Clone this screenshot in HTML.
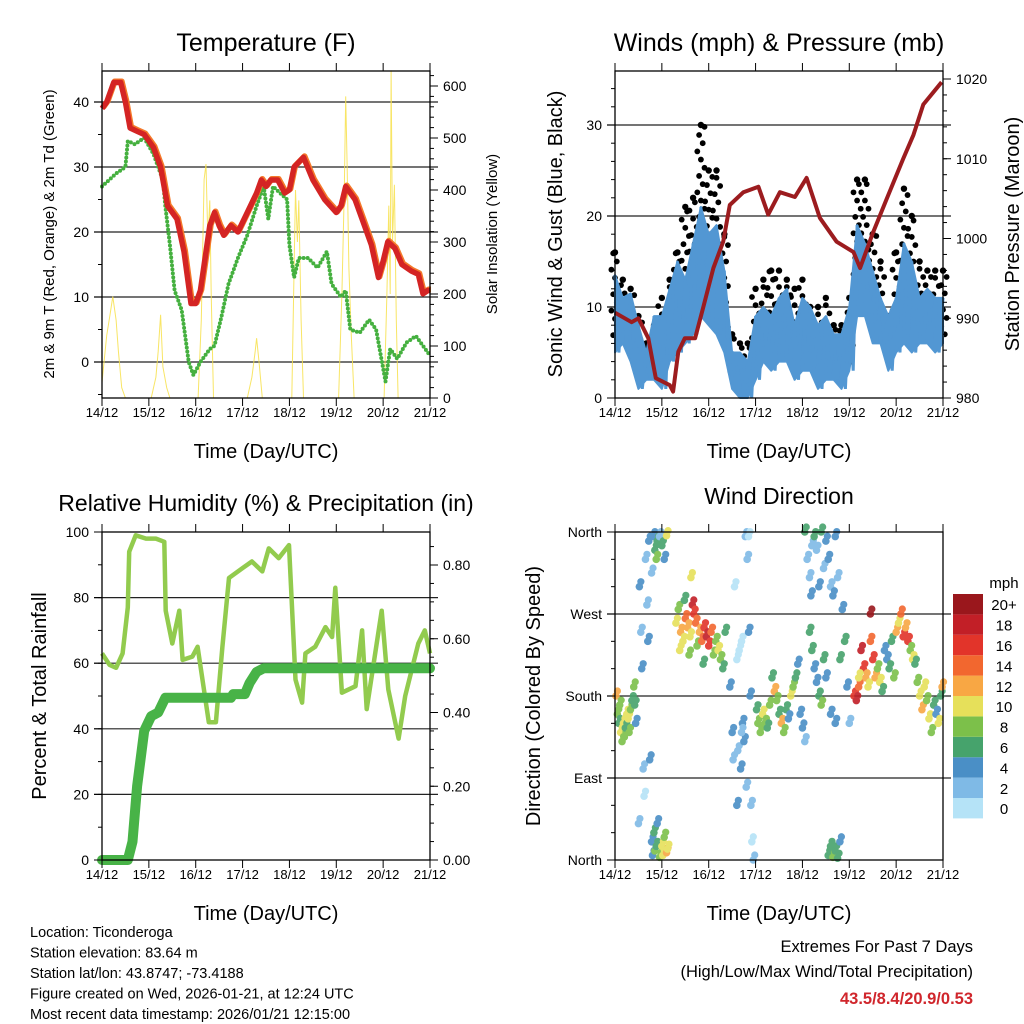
<!DOCTYPE html>
<html><head><meta charset="utf-8"><style>
html,body{margin:0;padding:0;background:#fff}
svg{display:block;font-family:"Liberation Sans",sans-serif}
</style></head><body>
<svg id="chart" width="1024" height="1024" viewBox="0 0 1024 1024"></svg>
<script>
// ---------- Temperature data (time in days since 14/12) ----------
const tempT=[0,0.1,0.25,0.4,0.5,0.6,0.75,0.9,1.0,1.1,1.25,1.4,1.6,1.75,1.9,2.0,2.1,2.3,2.4,2.5,2.6,2.75,2.9,3.1,3.3,3.4,3.5,3.6,3.75,3.9,4.0,4.1,4.3,4.5,4.75,5.0,5.1,5.2,5.4,5.6,5.75,5.9,6.0,6.1,6.25,6.4,6.6,6.75,6.85,6.95,7.0];
const tempV=[39,40,43,43,40,36,35.5,35,34,33,30,24,22,17,9,9,11,21,23,21,19.5,21,20,23,26,28,27,28,28,26,26.5,30,31.5,28,25,23,24,27,25,21,18,13,15.5,18.5,17.5,15,14,13.5,10.5,11,11];
const dewT=[0,0.3,0.5,0.55,0.7,0.9,1.1,1.3,1.35,1.45,1.55,1.7,1.85,1.95,2.1,2.3,2.4,2.55,2.7,2.9,3.1,3.3,3.45,3.55,3.65,3.8,3.95,4.0,4.1,4.2,4.4,4.6,4.8,4.9,5.0,5.1,5.2,5.3,5.5,5.7,5.85,5.95,6.05,6.15,6.3,6.5,6.7,6.85,7.0];
const dewV=[27,29,30,34,33.5,34.5,32,28,24,18,11,8,0,-2,0,2,2.5,7,12,16,19.5,24,27,22,27,26,25,18,13,16,16,14.5,17,12,11,10,11,5,4.5,6.5,5,1,-3,2,0.5,3,4,2.5,1];
const solT=[0,0.1,0.17,0.23,0.3,0.35,0.42,0.5,1.05,1.15,1.2,1.25,1.3,1.38,1.45,2.05,2.12,2.18,2.22,2.26,2.3,2.33,2.38,3.1,3.2,3.27,3.3,3.35,3.42,4.05,4.1,4.13,4.17,4.2,4.25,4.3,5.05,5.12,5.17,5.2,5.23,5.27,5.32,5.38,6.02,6.08,6.12,6.15,6.17,6.2,6.24,6.28,6.32,7.0];
const solV=[30,120,160,195,150,90,20,0,0,40,90,160,60,20,0,0,150,420,450,300,380,200,0,0,40,90,115,70,0,0,250,400,300,380,150,0,0,200,400,580,450,250,120,0,0,200,370,200,630,300,410,150,0,0];
// ---------- Wind data (4-hour steps) ----------
const windHi=[13.5,11,11.5,8,5,9,9,12,15,13,17,21,18,19,14,5,5,4,9,10,9,11,12,8,11,10,8,9,7,7,10,19,17,14,11,9,11,17,15,11,12,11,11];
const windLo=[5,6,4,1,2,2,1,4,5,6,7,9,8,7,5,1,0,0,2,4,3,4,4,2,3,3,1,2,2,1,3,9,9,6,6,3,5,6,5,6,6,5,6];
const gustV=[16,13,12,9,6,8,11,13,16,21,22,30,25,25,18,7,6,6,12,13,14,14,13,12,13,10,10,11,8,8,11,24,24,18,15,9,16,23,20,15,14,14,14];
const presT=[0,0.355,0.5,0.71,0.87,1.17,1.24,1.35,1.49,1.71,1.88,2.1,2.31,2.45,2.74,3.06,3.27,3.52,3.84,4.09,4.37,4.73,5.09,5.23,5.51,5.8,6.15,6.37,6.58,6.97];
const presV=[990.7,989.5,990,987.5,982.5,981.6,980.8,985.8,987.5,987.5,991.3,996.3,999.6,1004.2,1005.8,1006.5,1003,1005.8,1005.2,1007.6,1002.6,999.6,998.3,996.3,1000.8,1005,1010,1013,1016.8,1019.6];
// ---------- RH / precip ----------
const rhT=[0,0.16,0.3,0.44,0.55,0.58,0.72,0.94,1.15,1.33,1.36,1.5,1.65,1.72,1.93,2.04,2.28,2.43,2.57,2.71,3.0,3.2,3.42,3.56,3.77,3.99,4.13,4.27,4.34,4.55,4.77,4.91,4.98,5.12,5.41,5.55,5.65,5.97,6.11,6.33,6.47,6.75,6.89,7.0];
const rhV=[63,59.5,58.6,63,77,94,99,98,98,97,76,66,76,61,62,65,42,42,65,86,89,91,88,95,92,96,55,48,63,65,71,68,83,51,53,70,46,76,52,37,50,66,70,63];
const prT=[0,0.55,0.65,0.75,0.9,1.05,1.2,1.35,2.75,2.8,3.05,3.15,3.3,3.45,7.0];
const prV=[0,0,0.05,0.2,0.35,0.39,0.4,0.44,0.44,0.45,0.45,0.48,0.51,0.52,0.52];
// ---------- Wind direction ----------
const dirT=[0.02,0.05,0.08,0.1,0.12,0.15,0.18,0.2,0.22,0.25,0.28,0.3,0.33,0.36,0.4,0.42,0.44,
0.5,0.52,0.55,0.57,0.6,0.62,0.65,0.68,0.7,0.72,0.74,
0.78,0.8,0.83,0.85,0.88,0.9,0.95,1.0,1.02,1.05,1.1,1.12,
0.82,0.85,0.88,0.9,0.95,1.0,1.05,1.1,0.78,
1.3,1.35,1.4,1.45,1.5,1.55,1.6,1.65,1.68,1.72,1.75,1.8,1.85,1.9,1.95,2.0,2.05,2.1,2.15,2.2,2.25,2.3,1.38,1.58,1.88,2.35,1.48,1.62,
2.45,2.5,2.52,2.55,2.6,2.65,2.7,2.62,2.68,2.72,2.75,2.8,2.78,2.82,2.85,2.88,2.9,2.92,2.95,2.85,2.7,2.6,
3.02,3.05,3.1,3.15,3.2,3.25,3.3,3.35,3.4,3.45,3.5,3.55,3.6,3.65,3.7,3.75,3.8,3.85,3.9,3.95,4.0,4.05,
4.05,4.1,4.15,4.18,4.2,4.25,4.3,4.35,4.4,4.45,4.5,4.55,4.6,4.65,4.7,4.75,4.85,4.55,4.6,4.65,4.7,4.8,4.75,
4.15,4.2,4.25,4.3,4.35,4.4,4.45,4.5,4.6,4.7,4.8,4.9,4.95,5.0,
5.1,5.15,5.2,5.25,5.3,5.35,5.4,5.45,5.5,5.55,5.6,5.65,5.7,5.75,5.8,5.85,5.9,5.95,5.45,5.2,
6.0,6.05,6.1,6.15,6.2,6.25,6.3,6.35,6.4,
6.45,6.5,6.55,6.6,6.65,6.7,6.75,6.8,6.85,6.9,6.95,6.98];
const dirD=[180,160,150,170,140,130,150,135,145,160,155,140,165,175,190,170,150,
40,300,250,210,100,70,330,280,240,350,110,
20,5,30,10,15,40,3,15,5,25,8,12,
355,340,330,350,355,345,330,356,315,
260,275,250,240,265,255,245,280,270,260,235,250,240,255,245,235,250,225,240,230,220,210,230,225,215,250,285,310,
190,140,110,300,220,230,240,120,100,150,130,80,355,330,250,180,60,20,0,355,140,60,
165,150,140,160,150,145,170,200,185,175,160,150,140,165,155,180,190,200,215,160,145,130,
360,330,310,290,345,355,340,300,360,320,350,330,300,290,355,310,275,5,15,3,10,20,2,
250,230,210,195,180,170,220,200,160,150,220,240,190,150,
180,175,190,230,210,200,190,240,220,200,210,195,185,230,220,210,240,200,270,200,
250,260,270,245,255,240,230,220,215,
195,180,165,190,175,155,140,170,160,150,180,190];
const dirS=[12,8,6,8,10,8,10,8,6,10,10,8,8,6,8,6,4,
2,4,2,4,2,0,2,2,4,4,4,
4,4,6,8,6,4,8,10,10,8,12,10,
4,6,8,6,2,6,4,10,2,
10,8,12,10,14,12,10,18,16,14,8,12,14,16,18,16,14,8,8,10,8,6,10,8,6,6,6,10,
4,4,2,0,0,0,0,2,4,4,4,2,2,2,4,4,2,0,2,0,2,4,
6,8,8,10,8,6,8,6,12,8,6,12,8,6,4,10,8,6,4,4,4,2,
6,2,2,4,2,6,2,4,6,2,4,4,2,4,4,2,4,6,6,8,6,4,6,
6,6,4,4,6,8,6,4,4,4,6,6,4,2,
16,18,14,18,16,12,10,14,16,12,8,10,6,4,4,6,6,8,20,10,
12,10,14,16,12,16,8,10,6,
8,10,12,10,8,10,8,6,4,10,6,12];
const cbLabels=["0","2","4","6","8","10","12","14","16","18","20+"];
const cbColors=["#b5e3f7","#7fbae6","#4a8fc6","#46a36c","#7cc04a","#e6e05a","#f8a744","#f2672f","#e2342a","#c21f27","#9a171c"];
const dayLabels=["14/12","15/12","16/12","17/12","18/12","19/12","20/12","21/12"];

const svg=document.getElementById('chart');
const NS='http://www.w3.org/2000/svg';
function el(tag,attrs,parent){const e=document.createElementNS(NS,tag);for(const k in attrs)e.setAttribute(k,attrs[k]);(parent||svg).appendChild(e);return e;}
function txt(s,x,y,size,anchor,parent,rot,extra){const t=el('text',{x:x,y:y,'font-size':size,'text-anchor':anchor||'middle',fill:'#000'},parent);if(rot)t.setAttribute('transform','rotate('+rot+' '+x+' '+y+')');if(extra)for(const k in extra)t.setAttribute(k,extra[k]);t.textContent=s;return t;}

function panel(name,x0,x1,y0,y1){
  const g=el('g',{});
  
  
  return {g,x0,x1,y0,y1,sx:t=>x0+(x1-x0)*t/7};
}
function lin(d0,d1,p0,p1){return v=>p0+(v-d0)*(p1-p0)/(d1-d0);}
function grid(P,sy,vals){
  const gg=el('g',{},P.g);
  
  
  vals.forEach(v=>el('line',{x1:P.x0-8,x2:P.x1+8,y1:sy(v),y2:sy(v),stroke:'#222','stroke-width':1.2},gg));
}
function frame(P){
  const f=el('rect',{x:P.x0,y:P.y0,width:P.x1-P.x0,height:P.y1-P.y0,fill:'none',stroke:'#000','stroke-width':1.3},P.g);
  
  
  const xa=el('g',{},P.g);
  
  
  for(let d=0;d<=7;d++){const x=P.sx(d);
    el('line',{x1:x,x2:x,y1:P.y0,y2:P.y0-8,stroke:'#000','stroke-width':1},xa);
    el('line',{x1:x,x2:x,y1:P.y1,y2:P.y1+8,stroke:'#000','stroke-width':1},xa);
    const t=txt(dayLabels[d],x,P.y1+19,13,'middle',xa);}
  const tt=txt('Time (Day/UTC)',(P.x0+P.x1)/2,P.y1+60,20,'middle',xa);
  
}
function yAxis(P,sy,side,majors,labels,minors,name){
  const ag=el('g',{},P.g);
  
  
  const x=side==='l'?P.x0:P.x1, dir=side==='l'?-1:1;
  minors.forEach(v=>el('line',{x1:x,x2:x+dir*4,y1:sy(v),y2:sy(v),stroke:'#000','stroke-width':1},ag));
  majors.forEach((v,i)=>{el('line',{x1:x,x2:x+dir*8,y1:sy(v),y2:sy(v),stroke:'#000','stroke-width':1},ag);
    const t=txt(labels[i],x+dir*13,sy(v)+5,14,side==='l'?'end':'start',ag);});
  return ag;
}
function path(pts){return pts.map((p,i)=>(i?'L':'M')+p[0].toFixed(1)+' '+p[1].toFixed(1)).join('');}
function range(a,b,s){const r=[];for(let v=a;v<=b+1e-9;v+=s)r.push(+v.toFixed(4));return r;}

// ===== Panel 1 Temperature =====
{const P=panel('temperature-panel',102,430,71,398);
 const sy=lin(0,40,362,102), sr=lin(0,600,398,86);
 txt('Temperature (F)',266,51,25,'middle',P.g);
 grid(P,sy,[0,10,20,30,40]);
 const sol=el('path',{d:path(solT.map((t,i)=>[P.sx(t),sr(solV[i])])),fill:'none',stroke:'#f7e04a','stroke-width':1,opacity:0.85},P.g);
 
 const dew=el('path',{d:path(dewT.map((t,i)=>[P.sx(t),sy(dewV[i])])),fill:'none',stroke:'#45b03f','stroke-width':4,'stroke-linecap':'round','stroke-dasharray':'0 4'},P.g);
 
 const t9=el('path',{d:path(tempT.map((t,i)=>[P.sx(t)+1,sy(tempV[i])-1])),fill:'none',stroke:'#f4792a','stroke-width':6,'stroke-linejoin':'round'},P.g);
 
 const t2=el('path',{d:path(tempT.map((t,i)=>[P.sx(t),sy(tempV[i])])),fill:'none',stroke:'#d42424','stroke-width':5.5,'stroke-linejoin':'round'},P.g);
 
 frame(P);
 yAxis(P,sy,'l',[0,10,20,30,40],['0','10','20','30','40'],range(-5,45,5).filter(v=>sy(v)<=398&&sy(v)>=71),'left-y-axis');
 yAxis(P,sr,'r',[0,100,200,300,400,500,600],['0','100','200','300','400','500','600'],range(0,620,20),'right-y-axis');
 txt('2m & 9m T (Red, Orange) & 2m Td (Green)',54,234,15,'middle',P.g,-90);
 txt('Solar Insolation (Yellow)',497,234,15,'middle',P.g,-90);
}
// ===== Panel 2 Winds =====
{const P=panel('winds-panel',615,943,71,398);
 const sy=lin(0,30,398,125), sr=lin(980,1020,398,79);
 txt('Winds (mph) & Pressure (mb)',779,51,25,'middle',P.g);
 grid(P,sy,[10,20,30]);
 const step=7/(windHi.length-1);
 const gg=el('g',{fill:'#000'},P.g);
 
 gustV.forEach((gv,i)=>{const x=P.sx(i*step);let k=0;
   for(let v=windLo[i]+1;v<=gv;v+=0.9){k++;const off=((k*3)%5-2)*1.8;
     el('circle',{cx:x+off,cy:sy(v),r:2.9},gg);}
   el('circle',{cx:x,cy:sy(gv),r:3.2},gg);});
 const poly=windHi.map((v,i)=>[P.sx(i*step),sy(v)]).concat(windLo.map((v,i)=>[P.sx(i*step),sy(v)]).reverse());
 const wf=el('path',{d:path(poly)+'Z',fill:'#5297d3',stroke:'#5297d3','stroke-width':2,'stroke-linejoin':'round'},P.g);
 
 const zz=[];windHi.forEach((v,i)=>{zz.push([P.sx(i*step),sy(v)]);if(i<windHi.length-1)zz.push([P.sx((i+0.5)*step),sy(windLo[i])]);});
 const wl=el('path',{d:path(zz),fill:'none',stroke:'#5297d3','stroke-width':3},P.g);
 
 const pl=el('path',{d:path(presT.map((t,i)=>[P.sx(t),sr(presV[i])])),fill:'none',stroke:'#9c1c1f','stroke-width':4,'stroke-linejoin':'round'},P.g);
 
 frame(P);
 yAxis(P,sy,'l',[0,10,20,30],['0','10','20','30'],range(0,35,2),'left-y-axis');
 yAxis(P,sr,'r',[980,990,1000,1010,1020],['980','990','1000','1010','1020'],range(980,1020,2),'right-y-axis');
 txt('Sonic Wind & Gust (Blue, Black)',562,234,20,'middle',P.g,-90);
 txt('Station Pressure (Maroon)',1019,234,20,'middle',P.g,-90);
}
// ===== Panel 3 RH =====
{const P=panel('humidity-panel',102,430,532,860);
 const sy=lin(0,100,860,532), sr=lin(0,0.8,860,565);
 txt('Relative Humidity (%) & Precipitation (in)',266,511,23,'middle',P.g);
 grid(P,sy,[20,40,60,80]);
 const rl=el('path',{d:path(rhT.map((t,i)=>[P.sx(t),sy(rhV[i])])),fill:'none',stroke:'#92cb4e','stroke-width':4.5,'stroke-linejoin':'round'},P.g);
 
 const pr=el('path',{d:path(prT.map((t,i)=>[P.sx(t),sr(prV[i])])),fill:'none',stroke:'#48b347','stroke-width':10,'stroke-linecap':'round','stroke-linejoin':'round'},P.g);
 
 frame(P);
 yAxis(P,sy,'l',[0,20,40,60,80,100],['0','20','40','60','80','100'],range(0,100,10),'left-y-axis');
 yAxis(P,sr,'r',[0,0.2,0.4,0.6,0.8],['0.00','0.20','0.40','0.60','0.80'],range(0,0.88,0.05),'right-y-axis');
 txt('Percent & Total Rainfall',46,696,20,'middle',P.g,-90);
}
// ===== Panel 4 Wind direction =====
{const P=panel('wind-direction-panel',615,943,532,860);
 const sy=lin(0,360,860,532);
 txt('Wind Direction',779,504,23,'middle',P.g);
 grid(P,sy,[90,180,270]);
 const dg=el('g',{opacity:0.9},P.g);
 
 dirT.forEach((t,i)=>{const ci=Math.min(10,Math.round(dirS[i]/2));
   el('circle',{cx:P.sx(t),cy:sy(dirD[i]),r:3.8,fill:cbColors[ci]},dg);
   el('circle',{cx:P.sx(t)+1.5,cy:sy(dirD[i])-5,r:3.6,fill:cbColors[ci]},dg);});
 frame(P);
 yAxis(P,sy,'l',[0,90,180,270,360],['North','East','South','West','North'],range(0,360,30),'left-y-axis');
 txt('Direction (Colored By Speed)',540,696,20,'middle',P.g,-90);
 const cb=el('g',{},P.g);
 
 const h=20.4, top=594;
 cbColors.forEach((c,i)=>{const y=top+(10-i)*h;el('rect',{x:953,y:y,width:30,height:h,fill:c},cb);
   txt(cbLabels[i],1004,y+h/2+6,15,'middle',cb);});
 txt('mph',1004,588,15,'middle',cb);
}
// ===== Footer text =====
{const g=el('g',{});
 
 ['Location: Ticonderoga','Station elevation: 83.64 m','Station lat/lon: 43.8747; -73.4188','Figure created on Wed, 2026-01-21, at 12:24 UTC','Most recent data timestamp: 2026/01/21 12:15:00']
 .forEach((s,i)=>txt(s,30,937+i*20.5,14.5,'start',g));
 const e=el('g',{});
 
 txt('Extremes For Past 7 Days',973,952,16.5,'end',e);
 txt('(High/Low/Max Wind/Total Precipitation)',973,977,16.5,'end',e);
 txt('43.5/8.4/20.9/0.53',973,1004,16.5,'end',e,0,{fill:'#d0262c','font-weight':'bold'});
}
</script>
</body></html>
